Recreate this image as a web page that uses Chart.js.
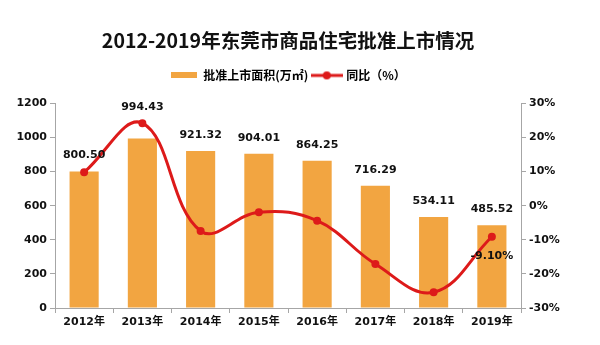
<!DOCTYPE html>
<html>
<head>
<meta charset="utf-8">
<script src="https://cdn.jsdelivr.net/npm/chart.js@4.4.1/dist/chart.umd.min.js"></script>
<style>
  html, body { margin: 0; padding: 0; background: #fff; }
  #wrap { width: 600px; height: 345px; }
</style>
</head>
<body>
<div id="wrap"><canvas id="chartCanvas" width="600" height="345"></canvas></div>
<script>
// --- data ---
const years = ["2012年", "2013年", "2014年", "2015年", "2016年", "2017年", "2018年", "2019年"];
const areaValues = [800.50, 994.43, 921.32, 904.01, 864.25, 716.29, 534.11, 485.52];
const yoyValues = [9.8, 24.2, -7.4, -1.9, -4.4, -17.1, -25.4, -9.1];
const leftTicks = { min: 0, max: 1200, step: 200 };
const rightTicks = { min: -30, max: 30, step: 10 };

const titleText = "2012-2019年东莞市商品住宅批准上市情况";
const barLabel = "批准上市面积(万㎡)";
const lineLabel = "同比（%）";

const BAR_COLOR = "#F2A541";
const LINE_COLOR = "#DD1A1A";
const AXIS_COLOR = "#A6A6A6";
const NUM_FONT = "'DejaVu Sans', 'Noto Sans CJK SC', sans-serif";
const CJK_FONT = "'Noto Sans CJK SC', sans-serif";

// little images used as legend markers
function barMarker() {
  const c = document.createElement("canvas");
  c.width = 26; c.height = 6;
  const ctx = c.getContext("2d");
  ctx.fillStyle = BAR_COLOR;
  ctx.fillRect(0, 0, 26, 6);
  return c;
}
function lineMarker() {
  const c = document.createElement("canvas");
  c.width = 32; c.height = 10;
  const ctx = c.getContext("2d");
  ctx.strokeStyle = LINE_COLOR;
  ctx.lineWidth = 3;
  ctx.beginPath(); ctx.moveTo(0, 5); ctx.lineTo(32, 5); ctx.stroke();
  ctx.fillStyle = LINE_COLOR;
  ctx.beginPath(); ctx.arc(16, 5, 4, 0, Math.PI * 2); ctx.fill();
  return c;
}

// value labels over the bars, plus the last yoy value
const valueLabels = {
  id: "valueLabels",
  afterDatasetsDraw(chart) {
    const ctx = chart.ctx;
    const bars = chart.getDatasetMeta(0).data;
    const pts = chart.getDatasetMeta(1).data;
    ctx.save();
    ctx.font = "bold 11px " + NUM_FONT;
    ctx.fillStyle = "#111";
    ctx.textAlign = "center";
    ctx.textBaseline = "middle";
    bars.forEach((b, i) => {
      const top = Math.min(b.y, pts[i].y);
      ctx.fillText(areaValues[i].toFixed(2), b.x, top - 16);
    });
    const last = pts.length - 1;
    ctx.fillText(yoyValues[last].toFixed(2) + "%", pts[last].x, pts[last].y + 19);
    ctx.restore();
  }
};

// push the plot down a little below the legend
const legendGap = {
  id: "legendGap",
  beforeInit(chart) {
    const fit = chart.legend.fit;
    chart.legend.fit = function () {
      fit.call(this);
      this.height += 12;
    };
  }
};

const tickFont = { family: NUM_FONT, size: 11, weight: "bold" };

new Chart(document.getElementById("chartCanvas"), {
  data: {
    labels: years,
    datasets: [
      {
        type: "bar",
        label: barLabel,
        data: areaValues,
        backgroundColor: BAR_COLOR,
        categoryPercentage: 1,
        barPercentage: 0.5,
        yAxisID: "y",
        order: 2
      },
      {
        type: "line",
        label: lineLabel,
        data: yoyValues,
        borderColor: LINE_COLOR,
        borderWidth: 3,
        backgroundColor: LINE_COLOR,
        pointRadius: 4,
        pointBackgroundColor: LINE_COLOR,
        pointBorderWidth: 0,
        tension: 0.4,
        yAxisID: "y1",
        order: 1
      }
    ]
  },
  options: {
    responsive: false,
    animation: false,
    layout: { padding: { top: 0, right: 24, left: 0, bottom: 0 } },
    plugins: {
      tooltip: { enabled: false },
      title: {
        display: true,
        text: titleText,
        color: "#111",
        font: { family: CJK_FONT, size: 19.5, weight: "bold" },
        padding: { top: 29, bottom: 12 }
      },
      legend: {
        display: true,
        labels: {
          usePointStyle: true,
          pointStyleWidth: 27,
          padding: 5,
          color: "#222",
          font: { family: CJK_FONT, size: 12, weight: "bold" },
          generateLabels: () => [
            { text: barLabel, pointStyle: barMarker(), datasetIndex: 0, lineWidth: 0 },
            { text: lineLabel, pointStyle: lineMarker(), datasetIndex: 1, lineWidth: 0 }
          ]
        }
      }
    },
    scales: {
      x: {
        offset: true,
        grid: { offset: true, drawOnChartArea: false, tickLength: 5, color: AXIS_COLOR },
        border: { color: AXIS_COLOR },
        ticks: { color: "#111", font: tickFont, padding: 3, maxRotation: 0 },
        afterFit(scale) { scale.height = 37; }
      },
      y: {
        position: "left",
        min: leftTicks.min,
        max: leftTicks.max,
        grid: { drawOnChartArea: false, tickLength: 5, color: AXIS_COLOR },
        border: { color: AXIS_COLOR },
        ticks: { stepSize: leftTicks.step, color: "#111", font: tickFont, padding: 3,
                 callback: v => String(v) },
        afterFit(scale) { scale.width = 55; }
      },
      y1: {
        position: "right",
        min: rightTicks.min,
        max: rightTicks.max,
        grid: { drawOnChartArea: false, tickLength: 5, color: AXIS_COLOR },
        border: { color: AXIS_COLOR },
        ticks: { stepSize: rightTicks.step, color: "#111", font: tickFont, padding: 3,
                 callback: v => v + "%" },
        afterFit(scale) { scale.width = 55; }
      }
    }
  },
  plugins: [valueLabels, legendGap]
});
</script>
</body>
</html>
